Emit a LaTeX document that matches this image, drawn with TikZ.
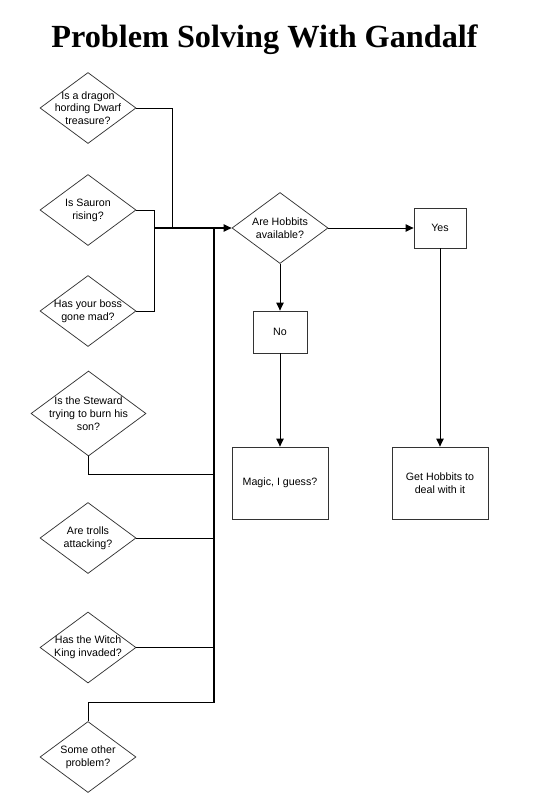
\documentclass[tikz,border=0pt]{standalone}
\usepackage{fontspec}
\setmainfont{Liberation Sans}
\newfontfamily\titlefont{Liberation Serif}
\usetikzlibrary{shapes.geometric,arrows.meta}
\begin{document}
\begin{tikzpicture}[x=0.75pt,y=-0.75pt,
  txt/.style={font=\fontsize{8}{9.6}\selectfont,align=center},
  dia/.style={draw=black!80,line width=0.55pt,shape=diamond,inner sep=0pt,
    minimum width=72pt,minimum height=53.25pt},
  bigdia/.style={dia,minimum width=86.25pt,minimum height=63.75pt},
  box/.style={draw=black!80,line width=0.55pt,rectangle,inner sep=0pt,txt},
  conn/.style={line width=0.75pt,black},
  bus/.style={line width=1.2pt,black},
  arr/.style={line width=0.75pt,black,-{Triangle[length=6pt,width=5.5pt]}}]
\useasboundingbox (0,0) rectangle (547,803);
\fill[white] (0,0) rectangle (547,803);

\node[font=\titlefont\bfseries\fontsize{24.2}{28}\selectfont,anchor=base] (title) at (264.5,47) {Problem Solving With Gandalf};

% left question diamonds
\node[dia,label={[txt]center:Is a dragon\\hording Dwarf\\treasure?}] (d1) at (88,108) {};
\node[dia,label={[txt]center:Is Sauron\\rising?}] (d2) at (88,210) {};
\node[dia,label={[txt]center:Has your boss\\gone mad?}] (d3) at (88,311) {};
\node[bigdia,label={[txt]center:Is the Steward\\trying to burn his\\son?}] (d4) at (88.5,413.5) {};
\node[dia,label={[txt]center:Are trolls\\attacking?}] (d5) at (88,538) {};
\node[dia,label={[txt]center:Has the Witch\\King invaded?}] (d6) at (88,647.5) {};
\node[dia,label={[txt]center:Some other\\problem?}] (d7) at (88,757) {};

% decision and outcomes
\node[dia,label={[txt]center:Are Hobbits\\available?}] (hob) at (280,228) {};
\node[box,minimum width=39pt,minimum height=30pt] (yes) at (440,228) {Yes};
\node[box,minimum width=40.5pt,minimum height=31.5pt] (no) at (280,332) {No};
\node[box,minimum width=72pt,minimum height=54pt] (magic) at (280,483) {Magic, I guess?};
\node[box,minimum width=72pt,minimum height=54pt] (get) at (440,483) {Get Hobbits to\\deal with it};

% junction coordinates
\coordinate (jS) at (154,228);
\coordinate (jD1) at (172,228);
\coordinate (jBus) at (214,228);
\coordinate (b4) at (214,474.3);
\coordinate (bEnd) at (214,702.5);

% connectors
\draw[conn] (d1.east) -| (jD1);
\draw[conn] (d2.east) -| (jS);
\draw[conn] (d3.east) -| (jS);
\draw[arr,line width=1.1pt] (jS) -- (hob.west);
\draw[bus] (jBus) -- (bEnd);
\draw[conn] (d4.south) |- (b4);
\draw[conn] (d5.east) -- (d5.east -| jBus);
\draw[conn] (d6.east) -- (d6.east -| jBus);
\draw[conn] (bEnd) -| (d7.north);

\draw[arr] (hob.east) -- (yes.west);
\draw[arr] (hob.south) -- (no.north);
\draw[arr] (no.south) -- (magic.north);
\draw[arr] (yes.south) -- (get.north);
\end{tikzpicture}
\end{document}
